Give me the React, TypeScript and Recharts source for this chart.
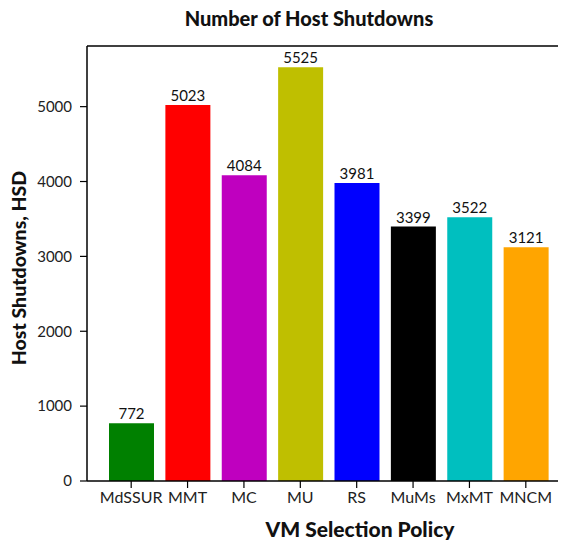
import React from "react";
import { BarChart, Bar, XAxis, YAxis, LabelList, Label, ReferenceLine, Cell } from "recharts";

const categories = ["MdSSUR", "MMT", "MC", "MU", "RS", "MuMs", "MxMT", "MNCM"];
const shutdowns = [772, 5023, 4084, 5525, 3981, 3399, 3522, 3121];
const barColors = ["#008000", "#ff0000", "#bf00bf", "#bfbf00", "#0000ff", "#000000", "#00bfbf", "#ffa500"];
const yTicks = [0, 1000, 2000, 3000, 4000, 5000];
const Y_MAX = 5810;

const data = categories.map((c, i) => ({ name: c, value: shutdowns[i], color: barColors[i] }));

const FONT = "Lato, 'Open Sans', sans-serif";

export default function App() {
  return (
    <div style={{ width: 558, height: 542, marginTop: -8, fontFamily: FONT }}>
      <BarChart
        width={558}
        height={542}
        data={data}
        margin={{ top: 46, right: 0, bottom: 0, left: 0 }}
      >
        <XAxis
          dataKey="name"
          height={61}
          padding={{ left: 16, right: 12 }}
          tickSize={7}
          tickMargin={4}
          axisLine={{ stroke: "#000", strokeWidth: 1.5 }}
          tickLine={{ stroke: "#000", strokeWidth: 1.2 }}
          tick={{ fill: "#222", fontSize: 16, fontFamily: FONT }}
          interval={0}
        >
          <Label
            content={() => (
              <text x={352} y={528} textAnchor="middle" dominantBaseline="central" fontWeight={900} fontSize={21} fill="#111" fontFamily={FONT}>
                VM Selection Policy
              </text>
            )}
          />
        </XAxis>
        <YAxis
          width={79}
          domain={[0, Y_MAX]}
          ticks={yTicks}
          tickSize={7}
          tickMargin={8}
          axisLine={{ stroke: "#000", strokeWidth: 1.5 }}
          tickLine={{ stroke: "#000", strokeWidth: 1.2 }}
          tick={{ fill: "#222", fontSize: 15, fontFamily: FONT }}
          allowDataOverflow
        >
          <Label
            content={() => (
              <text x={10} y={268} textAnchor="middle" dominantBaseline="central" fontWeight={900} fontSize={19.5} fill="#111" fontFamily={FONT} transform="rotate(-90 10 268)">
                Host Shutdowns, HSD
              </text>
            )}
          />
        </YAxis>
        <ReferenceLine y={Y_MAX} stroke="#000" strokeWidth={1.5} />
        <Bar dataKey="value" barSize={45} isAnimationActive={false}>
          {data.map((d) => (
            <Cell key={d.name} fill={d.color} />
          ))}
          <LabelList dataKey="value" position="top" offset={4} fill="#111" fontSize={15} fontFamily={FONT} />
        </Bar>
        <text x={301} y={18} textAnchor="middle" dominantBaseline="central" fontWeight={900} fontSize={20} fill="#111" fontFamily={FONT}>
          Number of Host Shutdowns
        </text>
      </BarChart>
    </div>
  );
}
